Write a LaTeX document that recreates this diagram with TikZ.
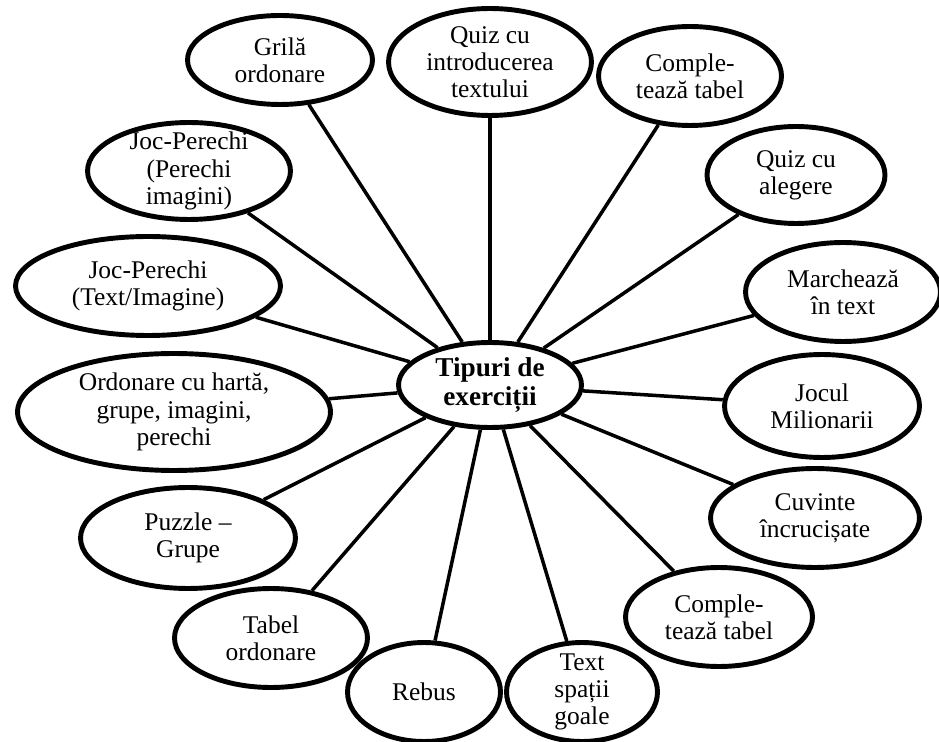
\documentclass[tikz,border=0pt]{standalone}
\usepackage{fontspec}
\setmainfont{Liberation Serif}
\usetikzlibrary{shapes.geometric, shadows}

\begin{document}
\begin{tikzpicture}[x = 0.02cm, y = -0.02cm,
	bubble/.style = {ellipse, draw, line width = 2.8pt, fill = white, inner sep = 0pt,
		drop shadow = {opacity = 0.2, shadow xshift = 1.2pt, shadow yshift = -1.2pt}},
	spoke/.style = {line width = 2pt},
	every label/.style = {align = center, inner sep = 0pt, font = \fontsize{14.5}{15.5}\selectfont}]

	\useasboundingbox (0, 0) rectangle (939, 742);

	% Centre
	
	\node [bubble, minimum width = 3.66cm, minimum height = 1.70cm,
		label = {[font = \fontsize{15.5}{17}\selectfont\bfseries] center:{Tipuri de\\exerciții}}] (centru) at (490, 385) {};
	
	% Exercise types, clockwise from the top
	
	\node [bubble, minimum width = 3.70cm, minimum height = 1.78cm, label = {center:{Grilă\\ordonare}}] (grila) at (280, 60) {};
	\node [bubble, minimum width = 4.06cm, minimum height = 2.14cm, label = {center:{Quiz cu\\introducerea\\textului}}] (quizintro) at (490, 62) {};
	\node [bubble, minimum width = 3.66cm, minimum height = 1.98cm, label = {center:{Comple-\\tează tabel}}] (tabelsus) at (690, 76) {};
	\node [bubble, minimum width = 3.56cm, minimum height = 1.94cm, label = {center:{Quiz cu\\alegere}}] (quizalegere) at (796, 175) {};
	\node [bubble, minimum width = 3.90cm, minimum height = 1.98cm, label = {center:{Marchează\\în text}}] (marcheaza) at (843, 292) {};
	\node [bubble, minimum width = 3.90cm, minimum height = 2.06cm, label = {center:{Jocul\\Milionarii}}] (milionarii) at (822, 406) {};
	\node [bubble, minimum width = 4.18cm, minimum height = 1.98cm, label = {center:{Cuvinte\\încrucișate}}] (cuvinte) at (815, 518) {};
	\node [bubble, minimum width = 3.74cm, minimum height = 1.98cm, label = {center:{Comple-\\tează tabel}}] (tabeljos) at (719, 617) {};
	\node [bubble, minimum width = 3.02cm, minimum height = 1.98cm, label = {center:{Text\\spații\\goale}}] (spatii) at (582, 692) {};
	\node [bubble, minimum width = 3.06cm, minimum height = 1.98cm, label = {center:{Rebus}}] (rebus) at (424, 692) {};
	\node [bubble, minimum width = 3.86cm, minimum height = 1.98cm, label = {center:{Tabel\\ordonare}}] (tabelord) at (271, 638) {};
	\node [bubble, minimum width = 4.30cm, minimum height = 2.02cm, label = {center:{Puzzle –\\Grupe}}] (puzzle) at (188, 538) {};
	\node [bubble, minimum width = 6.26cm, minimum height = 2.34cm, label = {center:{Ordonare cu hartă,\\grupe, imagini,\\perechi}}] (ordonare) at (174, 412) {};
	\node [bubble, minimum width = 5.30cm, minimum height = 1.98cm, label = {center:{Joc-Perechi\\(Text/Imagine)}}] (textimg) at (148, 286) {};
	\node [bubble, minimum width = 4.06cm, minimum height = 1.94cm, label = {center:{Joc-Perechi\\(Perechi\\imagini)}}] (perechiimg) at (189, 171) {};
	
	% Spokes
	
	\foreach \n in {grila, quizintro, tabelsus, quizalegere, marcheaza, milionarii, cuvinte,
		tabeljos, spatii, rebus, tabelord, puzzle, ordonare, textimg, perechiimg}
		\draw [spoke] (centru) -- (\n);

\end{tikzpicture}
\end{document}
